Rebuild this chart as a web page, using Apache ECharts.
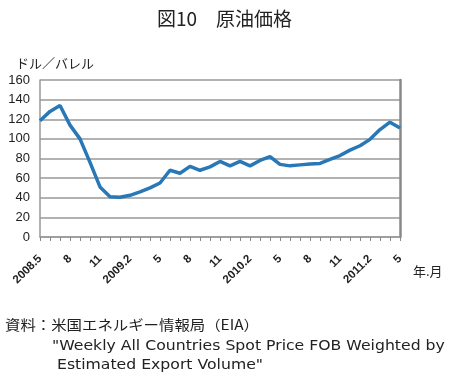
<!DOCTYPE html>
<html><head><meta charset="utf-8">
<script src="https://cdn.jsdelivr.net/npm/echarts@6/dist/echarts.min.js"></script>
<style>html,body{margin:0;padding:0;background:#fff}#c{width:449px;height:381px}</style>
</head><body><div id="c"></div>
<script>
const categories = ["2008.5","6","7","8","9","10","11","12","2009.1","2","3","4","5","6","7","8","9","10","11","12","2010.1","2","3","4","5","6","7","8","9","10","11","12","2011.1","2","3","4","5"];
const labelShown = ["2008.5","8","11","2009.2","5","8","11","2010.2","5","8","11","2011.2","5"];
const prices = [118.5,128,134,114,100,76,51,41,40.5,42.5,46,50,55,68,65,72,68,71.5,77,72.5,77,72.5,78,82,74,72.5,73.5,74.5,75,79,83,88.5,93,99.5,109.5,117,111];
const yTicks = [0,20,40,60,80,100,120,140,160];

const chart = echarts.init(document.getElementById('c'));
const jp = '"Noto Sans CJK JP", sans-serif';
chart.setOption({
  animation:false,
  title:{text:'図10　原油価格', left:'center', top:4, textStyle:{fontFamily:jp, fontSize:19, fontWeight:'normal', color:'#222'}},
  grid:{left:40, right:49, top:80, bottom:144},
  xAxis:{type:'category', data:categories, boundaryGap:false,
    axisLine:{lineStyle:{color:'#999', width:1.5}},
    axisTick:{interval:0, length:4, lineStyle:{color:'#888'}},
    axisLabel:{interval:2, rotate:45, margin:20, fontSize:11.5, fontWeight:'bold', color:'#222', fontFamily:'"Liberation Sans", Arial, sans-serif',
      formatter:(v,i)=>labelShown[i/3]}
  },
  yAxis:[{type:'value', min:yTicks[0], max:yTicks[yTicks.length-1], interval:20,
    name:'ドル／バレル', nameLocation:'end', nameGap:10, nameTextStyle:{fontFamily:jp, fontSize:13, color:'#222', align:'left', padding:[0,0,0,-24]},
    axisLine:{show:true, lineStyle:{color:'#999', width:1.5}},
    axisLabel:{fontSize:13, color:'#222', margin:10, fontFamily:'"Liberation Sans", Arial, sans-serif'},
    splitLine:{lineStyle:{color:'#999', width:1.5}}
  },{type:'value', position:'right', min:0, max:160, interval:20,
    axisLine:{show:true, lineStyle:{color:'#888', width:2.5}}, axisLabel:{show:false}, splitLine:{show:false}, axisTick:{show:false}}],
  series:[{type:'line', data:prices, symbol:'none', lineStyle:{color:'#2878b8', width:3.5}}],
  graphic:[
    {type:'text', left:413, top:265, style:{text:'年.月', fontFamily:jp, fontSize:13, fill:'#222'}},
    {type:'text', left:5, top:318, scaleX:1.1, style:{text:'資料：米国エネルギー情報局（EIA）', fontFamily:jp, fontSize:14, fill:'#222'}},
    {type:'text', left:52, top:339, scaleX:1.12, style:{text:'"Weekly All Countries Spot Price FOB Weighted by', fontFamily:'"DejaVu Sans", sans-serif', fontSize:14, fill:'#222'}},
    {type:'text', left:52, top:358, scaleX:1.12, style:{text:' Estimated Export Volume"', fontFamily:'"DejaVu Sans", sans-serif', fontSize:14, fill:'#222'}}
  ]
});
</script></body></html>
